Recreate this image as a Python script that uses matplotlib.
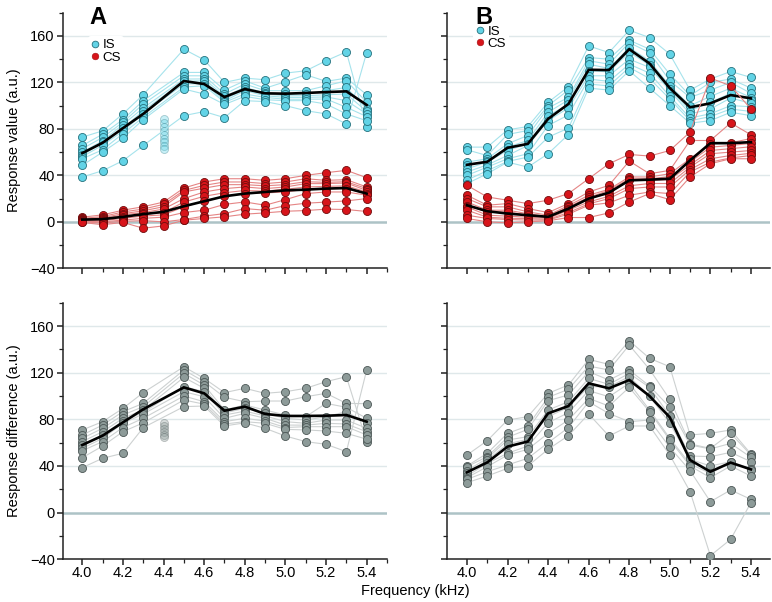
import numpy as np
import matplotlib
matplotlib.use("Agg")
import matplotlib.pyplot as plt
from matplotlib.lines import Line2D
from matplotlib.ticker import MultipleLocator

plt.rcParams['font.family'] = ['Liberation Sans', 'DejaVu Sans']

freqs = [4.0, 4.1, 4.2, 4.3, 4.4, 4.5, 4.6, 4.7, 4.8, 4.9, 5.0, 5.1, 5.2, 5.3, 5.4]
x_ticks = [4.0, 4.2, 4.4, 4.6, 4.8, 5.0, 5.2, 5.4]
y_ticks = [-40, 0, 40, 80, 120, 160]
N = float('nan')

# ---- Panel A (top-left): individual responses, one row per frequency ----
is_A = [
    [72.9, 65.7, 62.9, 60, 57.1, 56, 54.3, 48.6, 38.6],
    [78.3, 75.4, 72.6, 69.7, 68.6, 66, 62, 60, 44],
    [92.9, 88, 85.7, 83.7, 80.5, 78, 76, 72, 52.6],
    [109.4, 104.3, 101.4, 98, 95.7, 93, 90, 88, 65.7],
    [N, N, N, N, N, N, N, N, N],
    [148.6, 128.6, 125.7, 122.9, 121, 118.6, 116, 114.3, 91.4],
    [139.4, 128.6, 125.7, 123, 121.4, 119, 117.1, 110, 94.9],
    [120, 113.4, 110, 108, 105.7, 104, 102.9, 101, 89.7],
    [123.7, 121.4, 118.6, 115.7, 114, 112.9, 110, 108, 104.3],
    [122.3, 115, 112.9, 111, 110, 108.5, 107.1, 105.1, 103.5],
    [128, 120.6, 112.9, 110, 108.5, 107.1, 105.5, 104.3, 100],
    [130, 126.6, 112.9, 110, 108.5, 107.1, 105.5, 104.3, 95.7],
    [138.6, 120.9, 117.1, 112.9, 109.4, 107.5, 105.7, 101.4, 92.9],
    [146.3, 123.7, 121.4, 115.7, 110, 104.3, 98.6, 92.9, 84.3],
    [82, 109.4, 102.9, 97.1, 95, 92.9, 90.6, 87, 145.7],
]
is_A_excluded = [88.6, 85, 81.5, 78, 74.5, 71, 68.6, 65.5, 62.9]   # faded, at 4.4 kHz
is_A_mean = [59.1, 68, 80.6, 92.9, N, 121.2, 118.6, 107.4, 114.3, 110.6, 110.3, 110.9, 111.7, 112.3, 100.6]

cs_A = [
    [4, 3, 2.5, 2, 1.5, 1, 0.5, 0, -0.5],
    [6, 4.5, 3.5, 2.5, 2, 1, 0, -1, -2.5],
    [10, 8.5, 7, 6, 4.5, 3, 1.5, 0.5, -0.5],
    [13, 11, 9.5, 8, 6.5, 5, 3, 1, -5.5],
    [17, 15, 13, 11, 8, 6, 4, 0, -3.5],
    [29.1, 27, 25.7, 20, 17, 12.9, 8, 2, 1.4],
    [34.3, 31.4, 29, 25.7, 22, 18, 10, 4.9, 2.9],
    [37.1, 34.3, 32, 28.6, 25, 22, 15, 7.1, 4.3],
    [37.1, 34.3, 32, 30, 27, 24.3, 17.1, 11.4, 6.6],
    [35.7, 32.9, 31, 28.6, 26.5, 24.9, 14.3, 10, 7.7],
    [37.1, 34.3, 32, 30, 28, 25.7, 19.1, 14, 9.1],
    [40, 37.1, 34.5, 32.9, 30, 28, 24.3, 16, 9.7],
    [42.3, 35.7, 34, 32.9, 30.5, 28.6, 25.7, 17, 10.9],
    [44.3, 36.3, 34.5, 33.4, 31, 28.6, 25.7, 18, 10.6],
    [38, 30, 28.6, 27, 25.7, 24, 22.9, 20, 8.9],
]
cs_A_mean = [1.9, 2.3, 4.3, 6.6, 8.6, 13.4, 17.7, 22, 24.3, 25.7, 27.1, 27.7, 28.6, 29.1, 24.3]

# ---- Panel B (top-right) ----
is_B = [
    [64.3, 62, 51.4, 49, 45.7, 42.9, 40, 36, 32.9],
    [64.3, 57, 54.3, 52, 51.4, 49, 47.1, 44, 41.4],
    [79.2, 75.2, 67.2, 64.3, 61.4, 57.1, 54.3, 52, 51.4],
    [82, 78.6, 74.3, 70, 67.1, 65.7, 58.6, 55.7, 47.1],
    [102.9, 100, 98, 94.3, 91.4, 87.1, 82.9, 72.9, 58.6],
    [116.3, 113.4, 107.1, 104.9, 101, 98, 92, 80.6, 75.1],
    [151.4, 141.4, 138.6, 135.7, 130, 125.7, 122.9, 118.6, 115.1],
    [145.7, 140, 135.7, 132, 129.1, 125.7, 120.9, 117, 113.4],
    [164.9, 156.3, 154.3, 150, 146, 140, 135.7, 132.9, 130],
    [158.6, 148.6, 145.7, 138.6, 135, 132.9, 128, 123.4, 115.1],
    [144.3, 127.1, 121.4, 117.1, 114, 112.9, 108, 105.7, 100],
    [113.4, 108.6, 107.1, 100, 95.7, 92.9, 89.4, 87, 84.9],
    [122.9, 120, 113.4, 108, 102.9, 97.1, 93, 90.6, 87.1],
    [129.4, 122.9, 120, 115, 110.6, 106.6, 100, 97.1, 94.3],
    [124.3, 115.1, 110.6, 107, 104.9, 102, 99.1, 95, 91.4],
]
is_B_mean = [49.1, 51.7, 63.7, 67.1, 88.6, 101.4, 130.9, 130.6, 148.6, 136.3, 115.1, 98.6, 102, 109.1, 106.3]

cs_B = [
    [31.4, 22.9, 20, 17.1, 14, 12.9, 10, 5.7, 2.9],
    [21.4, 14.3, 12.9, 10, 8.6, 5.7, 4, 2.9, 0],
    [18.6, 15.7, 12.9, 10, 8.6, 4.9, 3, 2, -0.9],
    [15.7, 11.4, 8.6, 7, 5.7, 4, 2.9, 1.5, 0],
    [18.6, 8, 5.7, 4.5, 3.5, 2.9, 2, 1.5, 0.9],
    [24.3, 15.7, 14, 12.9, 11, 10, 8, 6.6, 3.7],
    [37.1, 25.7, 22.9, 21, 20, 17.1, 15.5, 14.3, 3.7],
    [50, 31.4, 28, 27.1, 24.3, 22, 20, 16.3, 7.7],
    [58, 52.3, 38.6, 37, 35.7, 31, 28.6, 22.9, 17.1],
    [56.6, 41.4, 38.6, 37, 35.7, 33, 30, 25.7, 24.3],
    [61.4, 44.3, 41.4, 39, 36.3, 33, 30, 24.3, 19.1],
    [77.3, 70, 54.3, 51.4, 49, 47.1, 45, 42.9, 38.6],
    [123.7, 70, 67.1, 64.3, 61.4, 58.6, 54.3, 51.4, 50],
    [117.1, 85.1, 68, 65.7, 63, 60, 57.1, 55, 54.3],
    [97.1, 74.9, 71.7, 67.5, 64.6, 61.4, 59, 57.1, 54.3],
]
cs_B_mean = [14.3, 9.1, 7.1, 5.7, 4.3, 11.4, 20, 25.1, 35.7, 36.3, 37.1, 52.9, 67.7, 67.7, 68.6]

# ---- Panel C (bottom-left): response differences ----
diff_C = [
    [70.9, 66.6, 63.7, 60.9, 58, 55.1, 53.1, 47.1, 38.6],
    [78, 75.1, 72.3, 69.4, 66.6, 63.7, 60.9, 57.1, 46.6],
    [89.4, 86.6, 83.7, 80.9, 78.5, 76.6, 73, 69.4, 50.9],
    [102.9, 93.7, 90.9, 88, 86, 84.6, 80.9, 77, 72.9],
    [N, N, N, N, N, N, N, N, N],
    [125.1, 122.3, 119.4, 116, 108, 103.7, 100, 96.6, 90.9],
    [115.1, 112.3, 109.4, 106.6, 103.7, 99.4, 95.1, 93, 91.4],
    [102.9, 98.9, 88, 85.5, 83.7, 80.9, 78, 76, 74.3],
    [106.6, 95.1, 92.3, 89.4, 87, 85.1, 80.9, 78, 77],
    [102.3, 95.7, 88, 85.1, 83, 80.9, 78.5, 76.6, 72.3],
    [103.7, 95.7, 83.7, 80.9, 78, 75.1, 73, 71.4, 65.7],
    [106.6, 99.4, 82.3, 79.4, 76.6, 75, 73.7, 70.9, 60.9],
    [112.3, 102.3, 93.7, 82.3, 79.4, 76.6, 73.7, 70, 58.6],
    [116.6, 93.7, 90.3, 86.6, 79.4, 76, 73.7, 68, 52.3],
    [60.9, 93.4, 80.9, 76.6, 72.3, 69.4, 66.6, 63, 122.3],
]
diff_C_excluded = [76.6, 74, 71.5, 69, 66.6, 65.1]   # faded, at 4.4 kHz
diff_C_mean = [58, 66, 77.4, 88.6, N, 107.4, 102.3, 87.4, 90.9, 84.6, 82.9, 82.9, 83.1, 83.7, 78]

# ---- Panel D (bottom-right) ----
diff_D = [
    [49.4, 40, 39.4, 36, 34, 31.4, 30, 28.6, 25.7],
    [61.7, 50.9, 48, 46.6, 45.1, 42.3, 39.4, 35.1, 31.4],
    [79.4, 68, 64.6, 62.3, 58.9, 50.9, 49.4, 40.9, 38],
    [82.3, 74.3, 71.4, 65.1, 62.9, 57.1, 54.3, 46.6, 40],
    [102.3, 98.9, 96, 88, 82.3, 77.1, 68, 60, 54.3],
    [109.4, 105.7, 100.9, 95.1, 90.3, 85.7, 79.4, 72.9, 66],
    [131.4, 125.7, 120.9, 115.1, 108, 104.6, 98, 95, 84.6],
    [127.1, 122.3, 113.7, 110, 108, 99.4, 91.4, 85, 65.7],
    [147.4, 143.7, 122.3, 119.4, 116.6, 110.9, 107.4, 78, 74.3],
    [132.3, 122.9, 108.6, 107.4, 100, 88, 86.6, 79.4, 74.3],
    [125.1, 97.1, 90.3, 82.9, 76.6, 63.7, 62.3, 56, 49.4],
    [66.6, 58.9, 58, 48.6, 45.7, 41.7, 40, 36, 18],
    [68, 55.1, 54.6, 48, 40, 33.7, 30, 9.4, -36.9],
    [70.9, 68, 59.4, 51.7, 43.7, 43.1, 40, 19.4, -22.9],
    [50.3, 49.4, 47.4, 43.7, 37.4, 36.6, 31.4, 11.4, 8.6],
]
diff_D_mean = [34.6, 43.1, 56.6, 61, 85.1, 91.4, 110.9, 106.6, 113.7, 100, 81.7, 45.1, 35.1, 42.9, 37.1]

# ---------------- styles ----------------
IS_FACE, IS_EDGE, IS_LINE = '#62d3e6', '#24707c', '#a6e3ec'
CS_FACE, CS_EDGE, CS_LINE = '#d7141a', '#6e0c0c', '#e58585'
DF_FACE, DF_EDGE, DF_LINE = '#8d9b99', '#4b5655', '#cdd1d1'
GRID = '#dfe8ea'
ZERO = '#adc3c6'
MS = 5.8

W, H = 772, 602
fig = plt.figure(figsize=(W / 100, H / 100), dpi=100)

def box(x0, x1, ytop, ybot):
    return [x0 / W, 1 - ybot / H, (x1 - x0) / W, (ybot - ytop) / H]

axA = fig.add_axes(box(63, 387, 12.7, 268.3))
axB = fig.add_axes(box(447, 770, 12.7, 268.3))
axC = fig.add_axes(box(63, 387, 302.7, 559.3))
axD = fig.add_axes(box(447, 770, 302.7, 559.3))

def setup(ax, xlim, ylabels, xlabels):
    ax.set_xlim(*xlim)
    ax.set_ylim(-40, 180)
    for s in ['top', 'right']:
        ax.spines[s].set_visible(False)
    for s in ['left', 'bottom']:
        ax.spines[s].set_linewidth(1.1)
        ax.spines[s].set_color('#222222')
    for g in [40, 80, 120, 160]:
        ax.axhline(g, color=GRID, lw=1.0, zorder=0)
    ax.axhline(0, color=ZERO, lw=1.8, zorder=0)
    ax.set_xticks(x_ticks)
    ax.xaxis.set_minor_locator(MultipleLocator(0.1))
    ax.set_yticks(y_ticks)
    ax.yaxis.set_minor_locator(MultipleLocator(20))
    ax.tick_params(which='major', direction='out', length=4, width=1.1, labelsize=10.5,
                   color='#222222', pad=2)
    ax.tick_params(axis='x', which='major', pad=0.8)
    ax.tick_params(which='minor', direction='out', length=3, width=0.9, color='#222222')
    if xlabels:
        ax.set_xticklabels([f'{t:.1f}' for t in x_ticks])
    else:
        ax.set_xticklabels([])
    if ylabels:
        ax.set_yticklabels(['\u221240' if t < 0 else str(t) for t in y_ticks])
    else:
        ax.set_yticklabels([])

def draw_group(ax, data, mean, face, edge, line, zbase):
    arr = np.array(data, dtype=float).T   # subjects x freqs
    x = np.array(freqs)
    for subj in arr:
        ok = ~np.isnan(subj)
        ax.plot(x[ok], subj[ok], color=line, lw=0.8, zorder=zbase)
    for subj in arr:
        ok = ~np.isnan(subj)
        ax.plot(x[ok], subj[ok], ls='none', marker='o', ms=MS, mfc=face, mec=edge,
                mew=0.6, zorder=zbase + 1)
    m = np.array(mean, dtype=float)
    ok = ~np.isnan(m)
    ax.plot(x[ok], m[ok], color='black', lw=1.9, zorder=zbase + 2, solid_joinstyle='miter')

xlimL = (3.905, 5.5)
xlimR = (3.9015, 5.494)
setup(axA, xlimL, True, False)
setup(axB, xlimR, False, False)
setup(axC, xlimL, True, True)
setup(axD, xlimR, False, True)

# faded excluded points
axA.plot([4.4] * len(is_A_excluded), is_A_excluded, ls='none', marker='o', ms=MS,
         mfc=IS_FACE, mec=IS_EDGE, mew=0.6, alpha=0.35, zorder=2)
axC.plot([4.4] * len(diff_C_excluded), diff_C_excluded, ls='none', marker='o', ms=MS,
         mfc=DF_FACE, mec=DF_EDGE, mew=0.6, alpha=0.35, zorder=2)

draw_group(axA, is_A, is_A_mean, IS_FACE, IS_EDGE, IS_LINE, 2)
draw_group(axA, cs_A, cs_A_mean, CS_FACE, CS_EDGE, CS_LINE, 5)
draw_group(axB, is_B, is_B_mean, IS_FACE, IS_EDGE, IS_LINE, 2)
draw_group(axB, cs_B, cs_B_mean, CS_FACE, CS_EDGE, CS_LINE, 5)
draw_group(axC, diff_C, diff_C_mean, DF_FACE, DF_EDGE, DF_LINE, 2)
draw_group(axD, diff_D, diff_D_mean, DF_FACE, DF_EDGE, DF_LINE, 2)

handles = [Line2D([], [], ls='none', marker='o', ms=4.8, mfc=IS_FACE, mec=IS_EDGE, mew=0.6, label='IS'),
           Line2D([], [], ls='none', marker='o', ms=4.8, mfc=CS_FACE, mec='#a00e12', mew=0.4, label='CS')]

# legend placed by its top-left corner, in pixels relative to each panel
for ax, px, py, aw in [(axA, 25, 23.5, 324), (axB, 26, 10, 323)]:
    leg = ax.legend(handles=handles, loc='upper left', bbox_to_anchor=(px / aw, 1 - py / 255.6),
                    frameon=True, fontsize=9.6, handlelength=0.6, handletextpad=0.3,
                    labelspacing=0.0, borderpad=0.2, borderaxespad=0)
    leg.get_frame().set_facecolor('white')
    leg.get_frame().set_edgecolor('none')
    leg.get_frame().set_alpha(1)
    leg.set_zorder(10)

fig.text(98 / W, 1 - 17 / H, 'A', fontsize=17, fontweight='bold', ha='center', va='center')
fig.text(484 / W, 1 - 17 / H, 'B', fontsize=17, fontweight='bold', ha='center', va='center')
fig.text(14 / W, 1 - 140 / H, 'Response value (a.u.)', rotation=90, fontsize=10.5, ha='center', va='center')
fig.text(14 / W, 1 - 431 / H, 'Response difference (a.u.)', rotation=90, fontsize=10.5, ha='center', va='center')
fig.text(415 / W, 1 - 591 / H, 'Frequency (kHz)', fontsize=10.5, ha='center', va='center')

fig.savefig('out.png', dpi=100)
